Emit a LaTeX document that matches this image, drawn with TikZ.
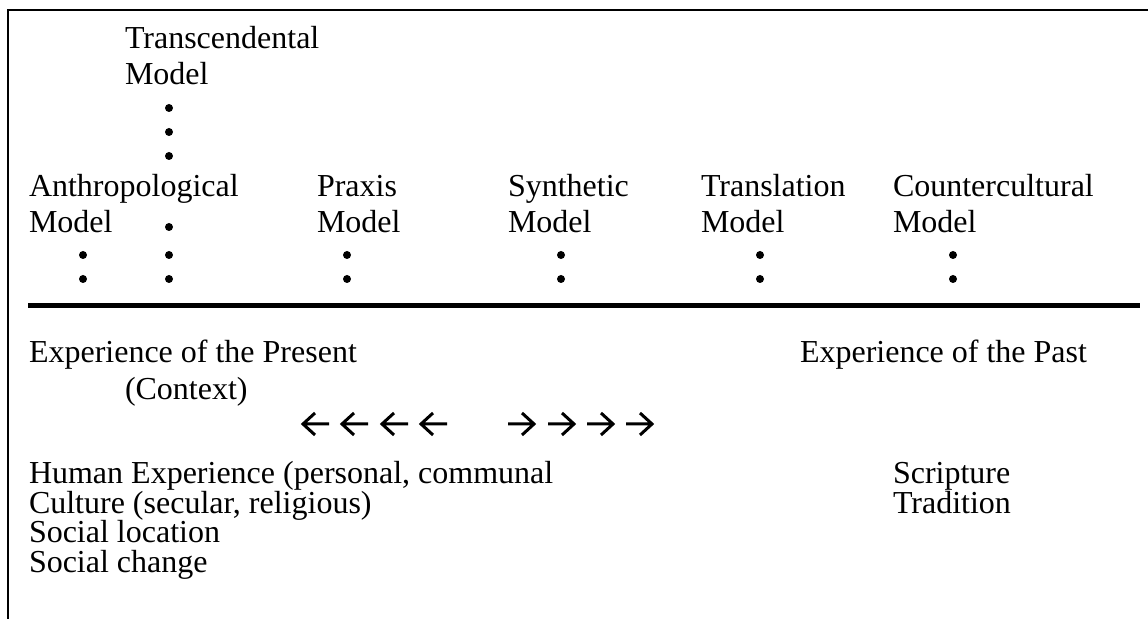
\documentclass[tikz,border=0pt]{standalone}
\usepackage{fontspec}
\setmainfont{Liberation Serif}
\begin{document}
\begin{tikzpicture}[x=0.5pt,y=-0.5pt,
  lbl/.style={anchor=base west, inner sep=0pt, outer sep=0pt,
              font=\fontsize{16pt}{18pt}\selectfont},
  frame/.style={line width=1pt},
  bar/.style={line width=2.5pt},
  arr/.style={line width=1.5pt, line cap=butt, line join=miter}]
\useasboundingbox (0,0) rectangle (1148,619);

% open frame: left and top edges
\draw[frame] (8,619) -- (8,10) -- (1148,10);

% the models
\node[lbl] (trans)  at (125,49)  {Transcendental};
\node[lbl] (transM) at (125,85)  {Model};
\node[lbl] (anth)   at (29,197)  {Anthropological};
\node[lbl] (anthM)  at (29,233)  {Model};
\node[lbl] (prax)   at (317,197) {Praxis};
\node[lbl] (praxM)  at (317,233) {Model};
\node[lbl] (synt)   at (508,197) {Synthetic};
\node[lbl] (syntM)  at (508,233) {Model};
\node[lbl] (trsl)   at (701,197) {Translation};
\node[lbl] (trslM)  at (701,233) {Model};
\node[lbl] (cntr)   at (893,197) {Countercultural};
\node[lbl] (cntrM)  at (893,233) {Model};

% dotted stems down to the divider
\foreach \y in {108,132,156,227,255,279} \fill (169,\y) circle[radius=2pt];
\foreach \x in {83,347,561,760,953} {
  \fill (\x,255) circle[radius=2pt];
  \fill (\x,279) circle[radius=2pt];
}

% divider
\draw[bar] (28,306) -- (1140,306);

% the two poles
\node[lbl] (pres)  at (29,363)  {Experience of the Present};
\node[lbl] (ctx)   at (125,400) {(Context)};
\node[lbl] (past)  at (800,363) {Experience of the Past};

% arrows pointing both ways
\foreach \x in {303,342,382,421}
  \draw[arr] (\x+26,424) -- (\x,424) (\x+12,413) -- (\x,424) -- (\x+12,435);
\foreach \x in {508,548,587,626}
  \draw[arr] (\x,424) -- (\x+26,424) (\x+14,413) -- (\x+26,424) -- (\x+14,435);

% sources of each pole
\node[lbl] (hum)  at (29,484)    {Human Experience (personal, communal};
\node[lbl] (cult) at (29,513.5)  {Culture (secular, religious)};
\node[lbl] (loc)  at (29,543)    {Social location};
\node[lbl] (chg)  at (29,572.5)  {Social change};
\node[lbl] (scr)  at (893,484)   {Scripture};
\node[lbl] (trad) at (893,513.5) {Tradition};
\end{tikzpicture}
\end{document}
